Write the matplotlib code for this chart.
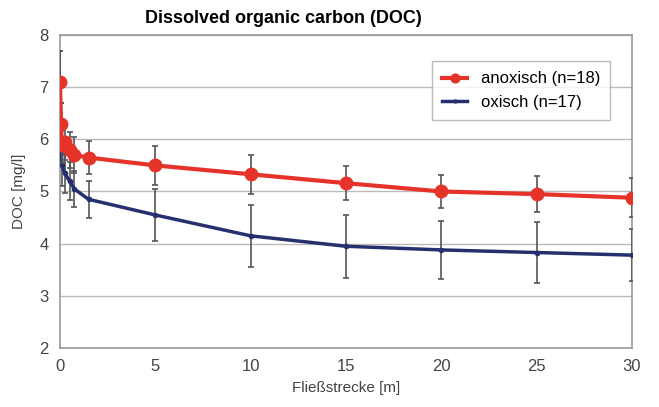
import matplotlib.pyplot as plt

plt.rcParams['font.family'] = ['Liberation Sans', 'DejaVu Sans']

# Fließstrecke [m]
x = [0, 0.05, 0.1, 0.25, 0.5, 0.75, 1.5, 5, 10, 15, 20, 25, 30]

anox = [7.1, 6.3, 5.9, 5.95, 5.8, 5.7, 5.65, 5.5, 5.33, 5.16, 5.0, 4.95, 4.88]
anox_err = [0.6, 0.4, 0.35, 0.35, 0.35, 0.35, 0.32, 0.37, 0.37, 0.33, 0.32, 0.35, 0.37]

ox = [7.05, 6.2, 5.5, 5.35, 5.2, 5.05, 4.85, 4.55, 4.15, 3.95, 3.88, 3.83, 3.78]
ox_err = [0.65, 0.5, 0.4, 0.38, 0.36, 0.35, 0.35, 0.5, 0.6, 0.6, 0.56, 0.58, 0.5]

fig = plt.figure(figsize=(6.59, 4.07), dpi=100)
ax = fig.add_axes([0.091, 0.145, 0.868, 0.769])

eb_ox = ax.errorbar(x, ox, yerr=ox_err, color='#27306e', lw=2.5, marker='o', ms=3,
                    ecolor='#555555', elinewidth=1.2, capsize=2.5, capthick=1.2,
                    zorder=3)
eb_an = ax.errorbar(x, anox, yerr=anox_err, color='#e5332a', lw=3, marker='o', ms=9,
                    ecolor='#555555', elinewidth=1.2, capsize=2.5, capthick=1.2,
                    zorder=4)

ax.set_xlim(0, 30)
ax.set_ylim(2, 8)
ax.set_xticks([0, 5, 10, 15, 20, 25, 30])
ax.set_yticks([2, 3, 4, 5, 6, 7, 8])
ax.grid(axis='y', color='#bbbbbb', lw=1)
ax.set_axisbelow(True)
for s in ax.spines.values():
    s.set_color('#999999')
    s.set_linewidth(1.2)
ax.tick_params(length=0, labelsize=12, colors='#444444', pad=8)

fig.text(0.43, 0.955, 'Dissolved organic carbon (DOC)', fontsize=13,
         fontweight='bold', ha='center', va='center')
ax.set_xlabel('Fließstrecke [m]', fontsize=11, color='#444444', labelpad=5)
ax.set_ylabel('DOC [mg/l]', fontsize=11, color='#444444', labelpad=10)

ax.legend([eb_an[0], eb_ox[0]], ['anoxisch (n=18)', 'oxisch (n=17)'],
          loc='upper right', fontsize=12, frameon=True, fancybox=False,
          edgecolor='#aaaaaa', bbox_to_anchor=(0.976, 0.942),
          handlelength=1.5, borderpad=0.6, markerscale=0.7)

fig.savefig('out.png', dpi=100)
